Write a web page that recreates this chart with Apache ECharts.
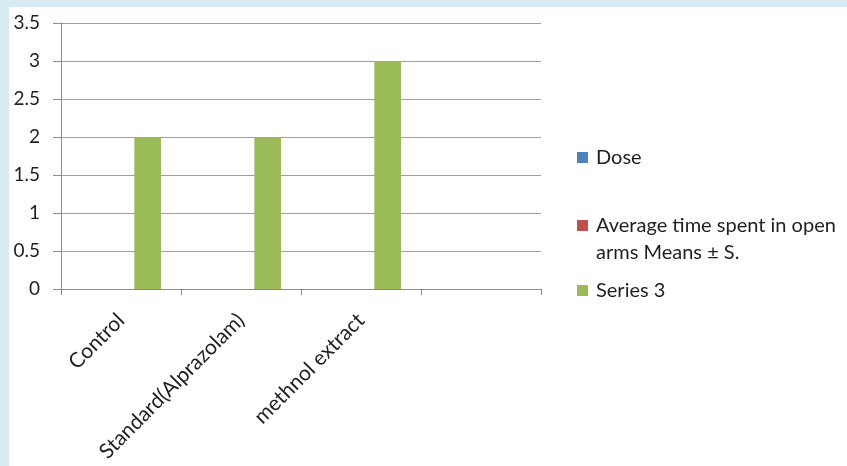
<!DOCTYPE html>
<html>
<head>
<meta charset="utf-8">
<script src="https://cdn.jsdelivr.net/npm/echarts@6/dist/echarts.min.js"></script>
<style>
html,body{margin:0;padding:0;background:#d6ebf2;width:847px;height:466px;overflow:hidden;}
#main{position:absolute;left:9px;top:7px;width:838px;height:459px;background:#ffffff;}
</style>
</head>
<body>
<div id="main"></div>
<script>
const categories = ['Control', 'Standard(Alprazolam)', 'methnol extract', ''];
const seriesNames = ['Dose', 'Average time spent in open arms Means ± S.', 'Series 3'];
const doseValues = [null, null, null, null];
const averageValues = [null, null, null, null];
const series3Values = [2, 2, 3, null];
const yTicks = { min: 0, max: 3.5, interval: 0.5 };
const colors = ['#4f81bd', '#c0504d', '#9bbb59'];

const FONT = 'Lato';
const TXT = '#1f1f1f';
const chart = echarts.init(document.getElementById('main'), null, { renderer: 'canvas' });

const richT = { t: { fontFamily: FONT, fontSize: 20, color: TXT, lineHeight: 27, padding: [0, 0, 0, 3] } };

function legendFor(name, top, fmt) {
  return {
    data: [name],
    orient: 'vertical',
    left: 568,
    top: top,
    icon: 'rect',
    itemWidth: 11,
    itemHeight: 11,
    itemGap: 0,
    padding: 0,
    selectedMode: false,
    formatter: fmt,
    textStyle: { fontFamily: FONT, fontSize: 20, color: TXT, lineHeight: 27, rich: richT }
  };
}

chart.setOption({
  animation: false,
  color: colors,
  textStyle: { fontFamily: FONT },
  grid: { left: 52, top: 16, width: 480, height: 266, containLabel: false },
  legend: [
    legendFor(seriesNames[0], 137, function (n) { return '{t|' + n + '}'; }),
    legendFor(seriesNames[1], 178, function () { return '{t| }\n{t|Average time spent in open}\n{t|arms Means ± S.}'; }),
    legendFor(seriesNames[2], 270, function (n) { return '{t|' + n + '}'; })
  ],
  xAxis: {
    type: 'category',
    data: categories,
    boundaryGap: true,
    axisLine: { show: true, lineStyle: { color: '#8c8c8c', width: 1 } },
    axisTick: { show: true, alignWithLabel: false, length: 6, lineStyle: { color: '#8c8c8c' } },
    axisLabel: { rotate: 45, margin: 28, fontFamily: FONT, fontSize: 21, color: TXT, interval: 0 },
    splitLine: { show: false }
  },
  yAxis: {
    type: 'value',
    min: yTicks.min,
    max: yTicks.max,
    interval: yTicks.interval,
    axisLine: { show: true, lineStyle: { color: '#8c8c8c', width: 1 } },
    axisTick: { show: true, length: 8, lineStyle: { color: '#8c8c8c' } },
    axisLabel: { margin: 21, fontFamily: FONT, fontSize: 19, color: TXT },
    splitLine: { show: true, lineStyle: { color: '#9e9e9e', width: 1 } }
  },
  series: [
    { name: seriesNames[0], type: 'bar', data: doseValues, barGap: '0%', barCategoryGap: '33.33%' },
    { name: seriesNames[1], type: 'bar', data: averageValues, barGap: '0%', barCategoryGap: '33.33%' },
    { name: seriesNames[2], type: 'bar', data: series3Values, barGap: '0%', barCategoryGap: '33.33%' }
  ]
});
</script>
</body>
</html>
